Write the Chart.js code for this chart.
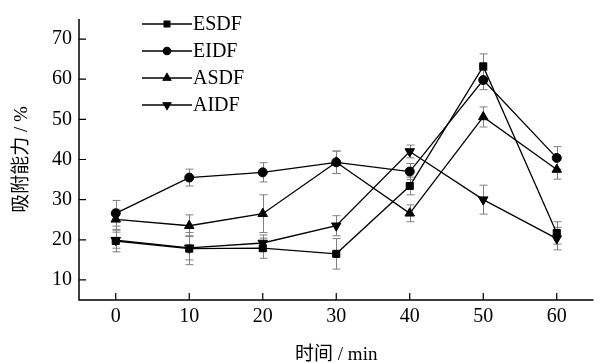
<!DOCTYPE html>
<html><head><meta charset="utf-8">
<script src="https://cdn.jsdelivr.net/npm/chart.js@4/dist/chart.umd.min.js"></script>
<style>html,body{margin:0;padding:0;background:#fff}#wrap{width:600px;height:363px}</style>
</head><body><div id="wrap"><canvas id="c" width="600" height="363"></canvas></div>
<script>
const times = [0, 10, 20, 30, 40, 50, 60];
const esdf = [19.7, 17.8, 17.9, 16.5, 33.4, 63.2, 21.7];
const esdfErr = [2.7, 4.0, 2.5, 3.8, 2.2, 3.1, 2.8];
const eidf = [26.6, 35.5, 36.8, 39.3, 37.0, 59.8, 40.4];
const eidfErr = [3.2, 2.1, 2.4, 2.8, 2.0, 2.4, 2.8];
const asdf = [25.1, 23.5, 26.5, 39.3, 26.6, 50.6, 37.5];
const asdfErr = [2.5, 2.7, 4.7, 2.8, 2.1, 2.5, 2.4];
const aidf = [19.9, 18.0, 19.2, 23.5, 42.0, 30.0, 20.3];
const aidfErr = [2.0, 3.0, 2.0, 2.5, 1.6, 3.6, 2.8];
const yTicks = [10, 20, 30, 40, 50, 60, 70];
const xTicks = [0, 10, 20, 30, 40, 50, 60];
const seriesNames = ['ESDF', 'EIDF', 'ASDF', 'AIDF'];

const serif = '"Liberation Serif", "Times New Roman", serif';
const cjk = '"Liberation Serif", "Noto Sans CJK SC", serif';

function mk(name, vals, errs, style, rot, r) {
  return {
    label: name,
    data: times.map((t, i) => ({x: t, y: vals[i]})),
    errs: errs,
    borderColor: '#000', backgroundColor: '#000', borderWidth: 1.3,
    pointStyle: style, pointRotation: rot, pointRadius: r, pointHoverRadius: r,
    pointBorderWidth: 1, showLine: true, tension: 0
  };
}
const datasets = [
  mk(seriesNames[0], esdf, esdfErr, 'rect', 0, 5),
  mk(seriesNames[1], eidf, eidfErr, 'circle', 0, 4.5),
  mk(seriesNames[2], asdf, asdfErr, 'triangle', 0, 5.5),
  mk(seriesNames[3], aidf, aidfErr, 'triangle', 180, 5.5)
];

const errPlugin = {
  id: 'err',
  beforeDatasetsDraw(chart) {
    const ctx = chart.ctx, xs = chart.scales.x, ys = chart.scales.y;
    ctx.save();
    ctx.strokeStyle = '#808080'; ctx.lineWidth = 1;
    chart.data.datasets.forEach(ds => {
      ds.data.forEach((p, i) => {
        const e = ds.errs[i];
        const x = Math.round(xs.getPixelForValue(p.x)) + 0.5;
        const y1 = ys.getPixelForValue(p.y + e), y2 = ys.getPixelForValue(p.y - e);
        ctx.beginPath();
        ctx.moveTo(x, y1); ctx.lineTo(x, y2);
        ctx.moveTo(x - 4, y1); ctx.lineTo(x + 4, y1);
        ctx.moveTo(x - 4, y2); ctx.lineTo(x + 4, y2);
        ctx.stroke();
      });
    });
    ctx.restore();
  }
};

const axisPlugin = {
  id: 'axes',
  afterDraw(chart) {
    const ctx = chart.ctx, xs = chart.scales.x, ys = chart.scales.y, a = chart.chartArea;
    ctx.save();
    ctx.strokeStyle = '#000'; ctx.lineWidth = 1.5;
    ctx.beginPath();
    ctx.moveTo(a.left, a.top); ctx.lineTo(a.left, a.bottom); ctx.lineTo(a.right, a.bottom);
    ctx.stroke();
    ctx.lineWidth = 1.2;
    ctx.beginPath();
    xTicks.forEach(v => { const x = xs.getPixelForValue(v); ctx.moveTo(x, a.bottom); ctx.lineTo(x, a.bottom - 7); });
    yTicks.forEach(v => { const y = ys.getPixelForValue(v); ctx.moveTo(a.left, y); ctx.lineTo(a.left + 7, y); });
    ctx.stroke();
    // legend
    const lx0 = 142, lx1 = 192, rows = [24, 51, 78, 105];
    chart.data.datasets.forEach((ds, i) => {
      const y = rows[i];
      ctx.strokeStyle = '#000'; ctx.lineWidth = 1.3;
      ctx.beginPath(); ctx.moveTo(lx0, y); ctx.lineTo(lx1, y); ctx.stroke();
      ctx.fillStyle = '#000';
      Chart.helpers.drawPoint(ctx, {pointStyle: ds.pointStyle, rotation: ds.pointRotation, radius: ds.pointRadius * 0.8, borderWidth: 1}, (lx0 + lx1) / 2, y);
      ctx.fill();
      ctx.font = '20px ' + serif; ctx.textAlign = 'left'; ctx.textBaseline = 'middle';
      ctx.fillText(ds.label, lx1 + 1, y + 1);
    });
    ctx.restore();
  }
};

new Chart(document.getElementById('c'), {
  type: 'scatter',
  data: {datasets},
  plugins: [errPlugin, axisPlugin],
  options: {
    responsive: false, animation: false, devicePixelRatio: 1,
    layout: {padding: {left: 0, right: 2, top: 12, bottom: 0}},
    plugins: {legend: {display: false}, tooltip: {enabled: false}},
    scales: {
      x: {
        type: 'linear', min: -5, max: 65,
        afterBuildTicks: s => { s.ticks = xTicks.map(v => ({value: v})); },
        afterFit: s => { s.height = 63; },
        grid: {display: false, drawTicks: false},
        border: {display: false},
        ticks: {color: '#000', font: {family: serif, size: 20}, padding: 5, maxRotation: 0},
        title: {display: true, text: '时间 / min', color: '#000', font: {family: cjk, size: 19}, padding: {top: 9, bottom: -3}}
      },
      y: {
        type: 'linear', min: 5, max: 75,
        afterBuildTicks: s => { s.ticks = yTicks.map(v => ({value: v})); },
        afterFit: s => { s.width = 79; },
        grid: {display: false, drawTicks: false},
        border: {display: false},
        ticks: {color: '#000', font: {family: serif, size: 20}, padding: 7},
        title: {display: true, text: '吸附能力 / %', color: '#000', font: {family: cjk, size: 19}, padding: {top: 11, bottom: 4}}
      }
    }
  }
});
</script></body></html>
